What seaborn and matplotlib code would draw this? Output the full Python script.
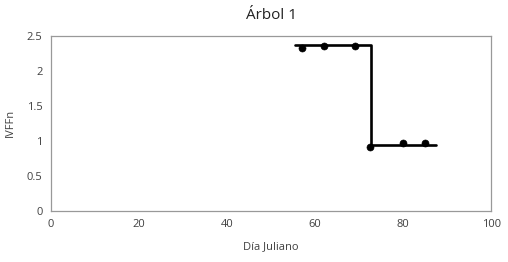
import matplotlib
matplotlib.use("Agg")
import matplotlib.pyplot as plt
import seaborn as sns
import pandas as pd

# data
dia = [57, 62, 69, 72.5, 80, 85]
ivffn = [2.32, 2.35, 2.35, 0.92, 0.97, 0.97]

# fitted step function
step_x = [55.5, 72.7, 87.5]
step_y = [2.37, 0.94, 0.94]

sns.set_theme(style="white")
plt.rcParams['font.family'] = ['Open Sans', 'DejaVu Sans']

fig, ax = plt.subplots(figsize=(5.08, 2.62), dpi=100)
fig.subplots_adjust(left=0.1, right=0.967, top=0.863, bottom=0.195)

pts = pd.DataFrame({"dia": dia, "ivffn": ivffn})
ax.step(step_x, step_y, where="post", color="black", lw=1.9, zorder=2)
sns.scatterplot(data=pts, x="dia", y="ivffn", ax=ax, color="black", s=26,
                edgecolor="black", zorder=3)

ax.set_xlim(0, 100)
ax.set_ylim(0, 2.5)
ax.set_xticks([0, 20, 40, 60, 80, 100])
ax.set_yticks([0, 0.5, 1, 1.5, 2, 2.5])
ax.set_yticklabels(["0", "0.5", "1", "1.5", "2", "2.5"])
ax.tick_params(labelsize=8, colors="#404040", length=0, pad=6)
ax.set_xlabel("Día Juliano", fontsize=8, color="#404040", labelpad=8)
ax.set_ylabel("IVFFn", fontsize=8, color="#404040", labelpad=8)
ax.set_title("Árbol 1", fontsize=11, color="#222222", pad=12)

for s in ax.spines.values():
    s.set_color("#999999")
    s.set_linewidth(0.9)

fig.savefig("out.png", dpi=100)
